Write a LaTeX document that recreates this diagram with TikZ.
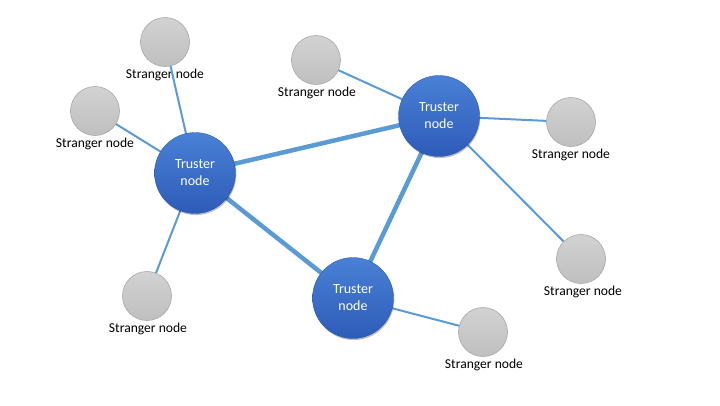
\documentclass[tikz,border=0pt]{standalone}
\usepackage{fontspec}
\setmainfont{Carlito}
\usetikzlibrary{shadows}
\definecolor{edgeblue}{HTML}{5B9BD5}
\definecolor{trtop}{HTML}{4A80D6}
\definecolor{trbot}{HTML}{2D5CB8}
\definecolor{sttop}{HTML}{D2D2D2}
\definecolor{stbot}{HTML}{BFBFBF}
\definecolor{stline}{HTML}{A8A8A8}
\pgfdeclarelayer{lab}
\pgfdeclarelayer{edges}
\pgfsetlayers{lab,edges,main}
\tikzset{
  truster/.style={circle, minimum size=81pt, inner sep=0pt, top color=trtop, bottom color=trbot,
    draw=trbot!90!black, line width=0.3pt, text=white, align=center,
    font=\fontsize{14}{17}\selectfont,
    drop shadow={shadow xshift=0.8pt, shadow yshift=-1.6pt, opacity=0.25, fill=black}},
  stranger/.style={circle, minimum size=49pt, inner sep=0pt, top color=sttop, bottom color=stbot,
    draw=stline, line width=0.6pt},
  slabel/.style={font=\fontsize{13.6}{16}\selectfont, text=black, inner sep=0pt},
  thin edge/.style={draw=edgeblue, line width=2pt},
  thick edge/.style={draw=edgeblue, line width=4.5pt},
}
\begin{document}
\begin{tikzpicture}[x=1pt,y=-1pt]
\useasboundingbox (0,0) rectangle (720,405);
\node[truster] (A) at (195,173) {Truster\\node};
\node[truster] (B) at (439,116) {Truster\\node};
\node[truster] (C) at (353,298) {Truster\\node};
\node[stranger] (s1) at (165,42) {};
\node[stranger] (s2) at (95,111) {};
\node[stranger] (s3) at (316,60) {};
\node[stranger] (s4) at (571,122) {};
\node[stranger] (s5) at (147,296) {};
\node[stranger] (s6) at (581,259) {};
\node[stranger] (s7) at (483,332) {};
\begin{pgfonlayer}{lab}
\node[slabel] (l1) at (165,74.5) {Stranger node};
\node[slabel] (l2) at (95,143.5) {Stranger node};
\node[slabel] (l3) at (317,92.5) {Stranger node};
\node[slabel] (l4) at (571,154.5) {Stranger node};
\node[slabel] (l5) at (148,328.5) {Stranger node};
\node[slabel] (l6) at (583,291.5) {Stranger node};
\node[slabel] (l7) at (484,364.5) {Stranger node};
\end{pgfonlayer}
\begin{pgfonlayer}{edges}
\draw[thin edge] (s1.center) -- (A.center);
\draw[thin edge] (s2.center) -- (A.center);
\draw[thin edge] (s5.center) -- (A.center);
\draw[thin edge] (s3.center) -- (B.center);
\draw[thin edge] (s4.center) -- (B.center);
\draw[thin edge] (s6.center) -- (B.center);
\draw[thin edge] (s7.center) -- (C.center);
\draw[thick edge] (A.center) -- (B.center);
\draw[thick edge] (A.center) -- (C.center);
\draw[thick edge] (B.center) -- (C.center);
\end{pgfonlayer}
\end{tikzpicture}
\end{document}
